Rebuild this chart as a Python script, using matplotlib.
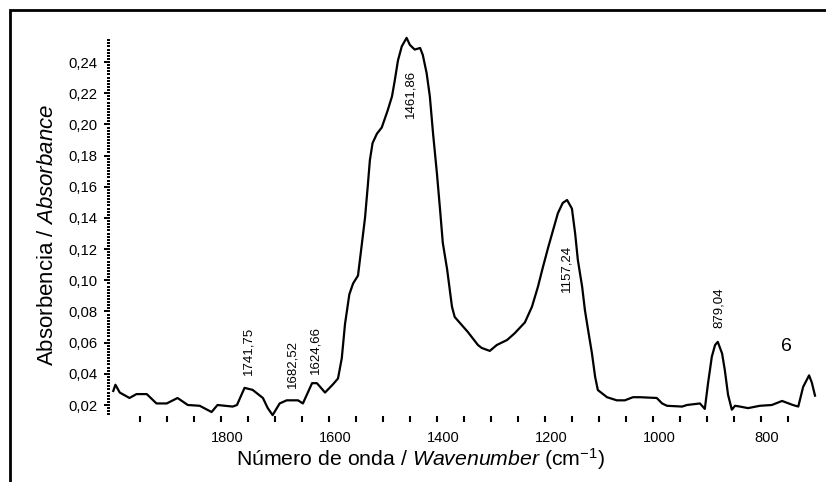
import matplotlib
matplotlib.use("Agg")
import matplotlib.pyplot as plt
from matplotlib.patches import Rectangle
from matplotlib.ticker import FixedLocator, MultipleLocator, FuncFormatter
from matplotlib.transforms import ScaledTranslation

plt.rcParams["font.family"] = ["Liberation Sans", "DejaVu Sans"]
plt.rcParams["mathtext.fontset"] = "custom"
plt.rcParams["mathtext.rm"] = "Liberation Sans"
plt.rcParams["mathtext.it"] = "Liberation Sans:italic"

# Espectro (número de onda en cm-1, absorbancia)
wavenumber = [1999, 1995, 1987, 1969, 1956, 1937, 1919, 1900, 1880, 1861, 1839, 1817, 1806,
              1778, 1770, 1756, 1741, 1722, 1713, 1704, 1691, 1678, 1657, 1648, 1631, 1622,
              1607, 1593, 1583, 1576, 1570, 1562, 1555, 1546, 1540, 1533, 1528, 1524, 1519,
              1511, 1502, 1496, 1491, 1483, 1478, 1472, 1465, 1456, 1450, 1441, 1431, 1426,
              1419, 1413, 1407, 1400, 1394, 1389, 1381, 1372, 1367, 1357, 1343, 1324, 1317,
              1302, 1289, 1270, 1256, 1237, 1224, 1213, 1204, 1194, 1185, 1176, 1167, 1159,
              1150, 1144, 1139, 1131, 1126, 1120, 1113, 1107, 1102, 1085, 1067, 1052, 1037,
              1024, 993, 983, 974, 946, 937, 913, 904, 898, 891, 885, 880, 872, 867, 861,
              854, 848, 839, 824, 802, 780, 761, 741, 731, 722, 711, 706, 700]
absorbance = [0.029, 0.033, 0.028, 0.0245, 0.027, 0.027, 0.021, 0.021, 0.0245, 0.020, 0.0195,
              0.0155, 0.020, 0.019, 0.020, 0.031, 0.0297, 0.0245, 0.018, 0.0135, 0.021, 0.023,
              0.023, 0.021, 0.034, 0.034, 0.028, 0.033, 0.037, 0.050, 0.072, 0.091, 0.098,
              0.103, 0.120, 0.140, 0.160, 0.177, 0.188, 0.194, 0.198, 0.204, 0.209, 0.218,
              0.228, 0.241, 0.250, 0.2555, 0.251, 0.248, 0.249, 0.2445, 0.233, 0.218, 0.194,
              0.169, 0.145, 0.124, 0.107, 0.083, 0.0765, 0.0725, 0.067, 0.0585, 0.0566, 0.0547,
              0.0585, 0.0617, 0.066, 0.073, 0.083, 0.0957, 0.108, 0.121, 0.132, 0.143, 0.1496,
              0.1515, 0.146, 0.130, 0.113, 0.0957, 0.081, 0.068, 0.0533, 0.038, 0.0296, 0.025,
              0.023, 0.023, 0.025, 0.025, 0.0245, 0.021, 0.0195, 0.019, 0.020, 0.021, 0.0175,
              0.034, 0.051, 0.0585, 0.0605, 0.053, 0.0425, 0.0266, 0.017, 0.0195, 0.019, 0.018,
              0.0195, 0.020, 0.0226, 0.020, 0.019, 0.0316, 0.039, 0.0345, 0.026]

# Etiquetas de picos: texto, posición x (cm-1), posición y (absorbancia)
peak_labels = ["1741,75", "1682,52", "1624,66", "1461,86", "1157,24", "879,04"]
peak_x = [1748, 1667, 1624, 1448, 1161, 878]
peak_y = [0.0546, 0.0463, 0.0553, 0.2195, 0.1079, 0.0822]

x_ticks = list(range(750, 1951, 50))
x_labels_at = [800, 1000, 1200, 1400, 1600, 1800]

fig = plt.figure(figsize=(8.26, 4.82), dpi=100)
ax = fig.add_axes([0.1332, 0.1371, 0.8535, 0.7795])

ax.plot(wavenumber, absorbance, color="black", lw=1.6, clip_on=False)

ax.set_xlim(2005, 700)
ax.set_ylim(0.013, 0.254)

for s in ax.spines.values():
    s.set_visible(False)

# Eje x: marcas cada 50, etiquetas cada 200
ax.xaxis.set_major_locator(FixedLocator(x_labels_at))
ax.xaxis.set_minor_locator(FixedLocator([t for t in x_ticks if t not in x_labels_at]))
ax.xaxis.set_major_formatter(FuncFormatter(lambda v, p: f"{v:.0f}"))
ax.tick_params(axis="x", which="both", direction="out", length=4, width=1.5, pad=6.5,
               labelsize=10.5)

# Eje y: marcas punteadas cada 0,002
ax.yaxis.set_major_locator(MultipleLocator(0.02))
ax.yaxis.set_minor_locator(MultipleLocator(0.002))
ax.yaxis.set_major_formatter(FuncFormatter(lambda v, p: f"{v:.2f}".replace(".", ",")))
ax.tick_params(axis="y", which="major", direction="out", length=4, width=1.4, pad=5,
               labelsize=10.7)
ax.tick_params(axis="y", which="minor", direction="out", length=2, width=1.4)

# Las etiquetas del eje x aparecen algo desplazadas a la derecha
shift = ScaledTranslation(0.06, 0, fig.dpi_scale_trans)
for lab in ax.get_xticklabels():
    lab.set_transform(lab.get_transform() + shift)

ax.set_xlabel(r"Número de onda / $\mathit{Wavenumber}$ (cm$^{-1}$)", fontsize=15.3)
ax.set_ylabel(r"Absorbencia / $\mathit{Absorbance}$", fontsize=16)
ax.xaxis.set_label_coords(0.441, -0.081)
ax.yaxis.set_label_coords(-0.074, 0.481)

for txt, px, py in zip(peak_labels, peak_x, peak_y):
    ax.text(px, py, txt, rotation=90, ha="center", va="center", fontsize=9.5)

ax.text(752, 0.0578, "6", ha="center", va="center", fontsize=14)

# Marco exterior (sólo se ven los bordes izquierdo y superior)
fig.add_artist(Rectangle((10 / 826, -0.1), 1.2, 1.1 - 10 / 482,
                         transform=fig.transFigure, fill=False, lw=2, ec="black"))

fig.savefig("out.png", dpi=100)
